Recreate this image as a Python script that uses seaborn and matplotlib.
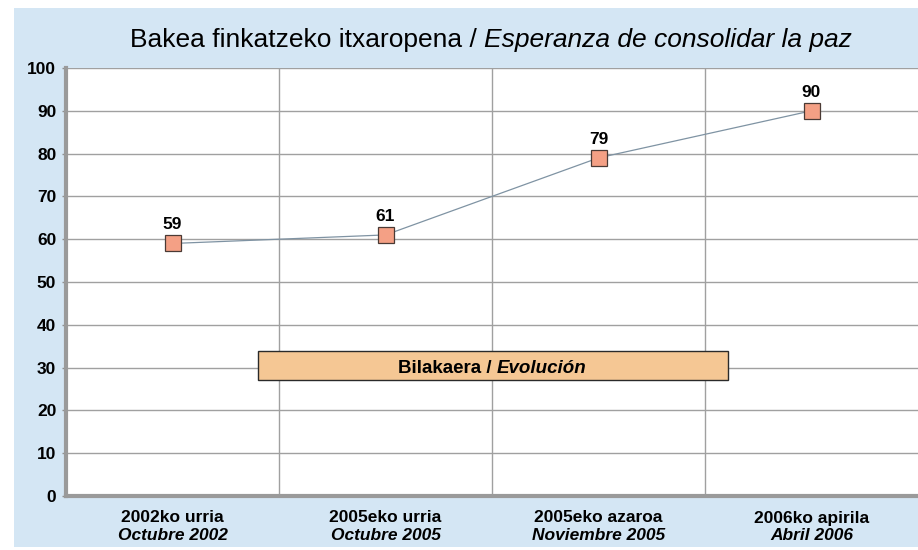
import matplotlib
matplotlib.use("Agg")
import matplotlib.pyplot as plt
import seaborn as sns
import pandas as pd
from matplotlib.patches import Rectangle
from matplotlib.transforms import ScaledTranslation, blended_transform_factory

cat_eu = ["2002ko urria", "2005eko urria", "2005eko azaroa", "2006ko apirila"]
cat_es = ["Octubre 2002", "Octubre 2005", "Noviembre 2005", "Abril 2006"]
values = [59, 61, 79, 90]
y_ticks = [0, 10, 20, 30, 40, 50, 60, 70, 80, 90, 100]
title_eu = "Bakea finkatzeko itxaropena / "
title_es = "Esperanza de consolidar la paz"
box_eu = "Bilakaera / "
box_es = "Evolución"

sns.set_theme(style="white")
FONT = ["Liberation Sans", "DejaVu Sans"]
plt.rcParams['font.family'] = FONT
plt.rcParams['text.color'] = "black"
plt.rcParams['ytick.labelcolor'] = "black"
plt.rcParams['xtick.labelcolor'] = "black"

df = pd.DataFrame({"x": list(range(len(values))), "v": values})

fig = plt.figure(figsize=(9.18, 5.5), dpi=100)
fig.patches.append(Rectangle((14/918, 3/550), 904/918, 539/550, transform=fig.transFigure,
                             facecolor="#D4E6F4", edgecolor="none", zorder=-10))
ax = fig.add_axes([66/918, 1-496/550, 852/918, 428/550])
ax.set_facecolor("white")

sns.lineplot(data=df, x="x", y="v", ax=ax, color="#7F93A3", linewidth=0.9,
             marker="s", markersize=11, markerfacecolor="#F4A085",
             markeredgecolor="#4a3a35", markeredgewidth=0.9, zorder=5)

ax.set_xlim(-0.5, 3.5)
ax.set_ylim(0, 100)
ax.set_yticks(y_ticks)
ax.set_yticklabels([str(t) for t in y_ticks], fontsize=12.5, fontweight="bold", color="black")
ax.set_xticks([0.5, 1.5, 2.5], minor=True)
ax.set_xticks([])
ax.grid(True, axis="y", color="#A0A0A0", linewidth=1)
ax.grid(True, axis="x", which="minor", color="#A0A0A0", linewidth=1)
ax.set_axisbelow(True)
ax.set_xlabel("")
ax.set_ylabel("")
ax.tick_params(axis="y", length=3, width=1, color="#909090", pad=4, left=True)
ax.tick_params(axis="x", which="both", length=0)
for s in ["top", "right"]:
    ax.spines[s].set_visible(False)
for s in ["left", "bottom"]:
    ax.spines[s].set_color("#9a9a9a")
    ax.spines[s].set_linewidth(3)

for i, v in enumerate(values):
    ax.annotate(str(v), (i, v), xytext=(0, 8), textcoords="offset points",
                ha="center", va="bottom", fontsize=12.5, fontweight="bold", color="black")

# box
ax.add_patch(Rectangle((0.401, 27.1), 2.207, 6.8, facecolor="#F5C794",
                       edgecolor="#2a2a2a", linewidth=1, zorder=6))

mixed = []
def mixed_text(x, y, parts, transform):
    first = ax.text(x, y, parts[0][0], transform=transform, ha="left", va="center",
                    zorder=7, color="black", **parts[0][1])
    arts = [first]
    prev = first
    for s, st in parts[1:]:
        a = ax.annotate(s, xy=(1, 0), xycoords=prev, ha="left", va="bottom",
                        zorder=7, annotation_clip=False, color="black", **st)
        arts.append(a)
        prev = a
    mixed.append((first, arts, transform))

mixed_text(1.5, 29.7, [(box_eu, dict(fontsize=13.5, fontweight="bold")),
                       (box_es, dict(fontsize=13.5, fontweight="bold", style="italic"))],
           ax.transData)

tfig = fig.transFigure
mixed_text(491/918, 1-40/550, [(title_eu, dict(fontsize=19)),
                              (title_es, dict(fontsize=19, style="italic"))], tfig)

bt = blended_transform_factory(ax.transData, fig.transFigure)
for i in range(len(cat_eu)):
    ax.text(i, 1-518/550, cat_eu[i], transform=bt, ha="center", va="center",
            fontsize=12.5, fontweight="bold", color="black")
    ax.text(i, 1-536/550, cat_es[i], transform=bt, ha="center", va="center",
            fontsize=12.5, fontweight="bold", style="italic", color="black")

fig.canvas.draw()
r = fig.canvas.get_renderer()
for first, arts, tr in mixed:
    total = sum(a.get_window_extent(r).width for a in arts)
    first.set_transform(tr + ScaledTranslation(-total/2/fig.dpi, 0, fig.dpi_scale_trans))

fig.savefig("out.png", dpi=100)
